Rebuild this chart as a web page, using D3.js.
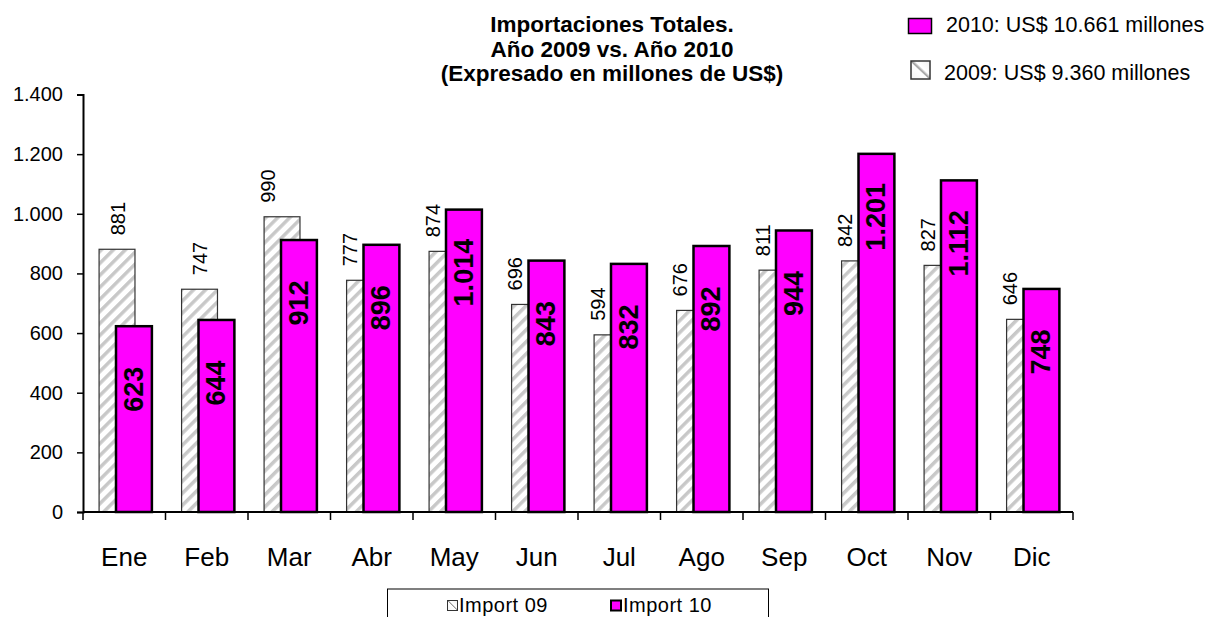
<!DOCTYPE html>
<html>
<head>
<meta charset="utf-8">
<script src="https://cdn.jsdelivr.net/npm/d3@7"></script>
<style>
  body { margin: 0; background: #fff; }
  text { font-family: "Liberation Sans", Arial, sans-serif; }
</style>
</head>
<body>
<div id="chart"></div>
<script>
// Data
const months = ["Ene", "Feb", "Mar", "Abr", "May", "Jun", "Jul", "Ago", "Sep", "Oct", "Nov", "Dic"];
const import09 = [881, 747, 990, 777, 874, 696, 594, 676, 811, 842, 827, 646];
const import10 = [623, 644, 912, 896, 1014, 843, 832, 892, 944, 1201, 1112, 748];
const yTicks = [0, 200, 400, 600, 800, 1000, 1200, 1400];
const titleLines = ["Importaciones Totales.", "Año 2009 vs. Año 2010", "(Expresado en millones de US$)"];
const topLegend = ["2010: US$ 10.661 millones", "2009: US$ 9.360 millones"];
const seriesNames = ["Import 09", "Import 10"];

const W = 1208, H = 617;
const MAGENTA = "#ff00ff";

// Spanish style number format: 1.400
const es = d3.formatLocale({ decimal: ",", thousands: ".", grouping: [3], currency: ["US$", ""] });
const fmt = es.format(",d");

const svg = d3.select("#chart")
  .append("svg")
  .attr("width", W)
  .attr("height", H);

// hatch pattern for 2009 bars
const defs = svg.append("defs");
const pat = defs.append("pattern")
  .attr("id", "hatch")
  .attr("patternUnits", "userSpaceOnUse")
  .attr("width", 8.5)
  .attr("height", 8.5)
  .attr("patternTransform", "rotate(45)");
pat.append("rect").attr("width", 8.5).attr("height", 8.5).attr("fill", "#ffffff");
pat.append("rect").attr("x", 0).attr("width", 3.5).attr("height", 8.5).attr("fill", "#c8c8c8");

const grad = defs.append("linearGradient")
  .attr("id", "legGrad")
  .attr("x1", "0").attr("y1", "1").attr("x2", "1").attr("y2", "0");
grad.append("stop").attr("offset", "0").attr("stop-color", "#f4f4f4");
grad.append("stop").attr("offset", "0.45").attr("stop-color", "#ffffff");
grad.append("stop").attr("offset", "0.5").attr("stop-color", "#9a9a9a");
grad.append("stop").attr("offset", "0.6").attr("stop-color", "#ffffff");
grad.append("stop").attr("offset", "1").attr("stop-color", "#eeeeee");

// scales
const x = d3.scaleBand()
  .domain(months)
  .range([83, 1073]);

const y = d3.scaleLinear()
  .domain([0, 1400])
  .range([512, 94.5]);

const bw = x.bandwidth();
const x09 = m => x(m) + bw * 0.195;
const x10 = m => x(m) + bw * 0.40;
const barW = bw * 0.435;

// 2009 bars (hatched)
svg.selectAll(".bar09")
  .data(import09)
  .enter()
  .append("rect")
  .attr("class", "bar09")
  .attr("x", (d, i) => x09(months[i]))
  .attr("y", d => y(d))
  .attr("width", barW)
  .attr("height", d => y(0) - y(d))
  .attr("fill", "url(#hatch)")
  .attr("stroke", "#333")
  .attr("stroke-width", 1.2);

// 2010 bars (magenta)
svg.selectAll(".bar10")
  .data(import10)
  .enter()
  .append("rect")
  .attr("class", "bar10")
  .attr("x", (d, i) => x10(months[i]))
  .attr("y", d => y(d))
  .attr("width", barW)
  .attr("height", d => y(0) - y(d))
  .attr("fill", MAGENTA)
  .attr("stroke", "#000")
  .attr("stroke-width", 2.5);

// 2009 labels above the bars; moved to the left edge when the 2010 bar is in the way
svg.selectAll(".lab09")
  .data(import09)
  .enter()
  .append("text")
  .attr("class", "lab09")
  .attr("transform", (d, i) => {
    const clash = import10[i] > d - 100;
    const cx = clash ? x09(months[i]) + 3 : x09(months[i]) + barW / 2;
    return `translate(${cx + 7.5}, ${y(d) - 14}) rotate(-90)`;
  })
  .attr("text-anchor", "start")
  .style("font-size", "20px")
  .text(d => fmt(d));

// 2010 labels inside the bars
svg.selectAll(".lab10")
  .data(import10)
  .enter()
  .append("text")
  .attr("class", "lab10")
  .attr("transform", (d, i) => {
    const cx = x10(months[i]) + barW / 2;
    return `translate(${cx + 9}, ${y(d) + 63}) rotate(-90)`;
  })
  .attr("text-anchor", "middle")
  .style("font-size", "27px")
  .style("font-weight", "bold")
  .text(d => fmt(d));

// y axis
const yAxis = svg.append("g")
  .attr("transform", "translate(83,0)")
  .call(d3.axisLeft(y).tickValues(yTicks).tickFormat(fmt).tickSize(6).tickPadding(14));
yAxis.select(".domain").attr("stroke", "#000").attr("stroke-width", 2);
yAxis.selectAll(".tick line").attr("stroke", "#000").attr("stroke-width", 1.5);
yAxis.selectAll(".tick text")
  .style("font-size", "20px")
  .style("font-family", "'Liberation Sans', Arial, sans-serif")
  .attr("fill", "#000");

// x axis
svg.append("line")
  .attr("x1", 83).attr("x2", 1073)
  .attr("y1", y(0)).attr("y2", y(0))
  .attr("stroke", "#000").attr("stroke-width", 2);

const bounds = months.map(m => x(m)).concat([x(months[months.length - 1]) + bw]);
svg.selectAll(".xtick")
  .data(bounds)
  .enter()
  .append("line")
  .attr("x1", d => d).attr("x2", d => d)
  .attr("y1", y(0)).attr("y2", y(0) + 8)
  .attr("stroke", "#000").attr("stroke-width", 1.5);

svg.selectAll(".xlab")
  .data(months)
  .enter()
  .append("text")
  .attr("x", d => x(d) + bw / 2)
  .attr("y", 566)
  .attr("text-anchor", "middle")
  .style("font-size", "26px")
  .text(d => d);

// title
svg.selectAll(".title")
  .data(titleLines)
  .enter()
  .append("text")
  .attr("x", 612)
  .attr("y", (d, i) => 32 + i * 24.5)
  .attr("text-anchor", "middle")
  .style("font-size", "22.5px")
  .style("font-weight", "bold")
  .text(d => d);

// top-right legend
svg.append("rect")
  .attr("x", 908.5).attr("y", 18.5).attr("width", 23).attr("height", 15)
  .attr("fill", MAGENTA).attr("stroke", "#000").attr("stroke-width", 1.5);
svg.append("rect")
  .attr("x", 911).attr("y", 61).attr("width", 19).attr("height", 18)
  .attr("fill", "url(#legGrad)").attr("stroke", "#333").attr("stroke-width", 1.5);
svg.selectAll(".toplegend")
  .data(topLegend)
  .enter()
  .append("text")
  .attr("x", (d, i) => i === 0 ? 946 : 944)
  .attr("y", (d, i) => 32 + i * 48)
  .style("font-size", "21.5px")
  .text(d => d);

// bottom legend
svg.append("rect")
  .attr("x", 387.5).attr("y", 589).attr("width", 381).attr("height", 40)
  .attr("fill", "#fff").attr("stroke", "#000").attr("stroke-width", 1);
svg.append("rect")
  .attr("x", 447.5).attr("y", 600.5).attr("width", 10).attr("height", 10)
  .attr("fill", "url(#legGrad)").attr("stroke", "#333").attr("stroke-width", 1);
svg.append("rect")
  .attr("x", 611).attr("y", 600.5).attr("width", 10).attr("height", 10)
  .attr("fill", MAGENTA).attr("stroke", "#000").attr("stroke-width", 2);
svg.selectAll(".botlegend")
  .data(seriesNames)
  .enter()
  .append("text")
  .attr("x", (d, i) => i === 0 ? 459 : 623)
  .attr("y", 612)
  .style("font-size", "20px")
  .style("letter-spacing", "0.5px")
  .text(d => d);
</script>
</body>
</html>
